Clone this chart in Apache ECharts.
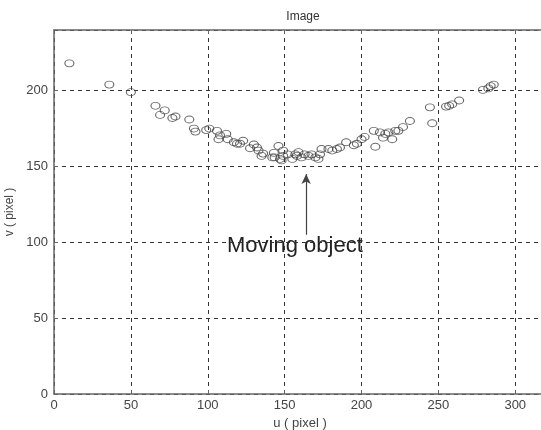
<!DOCTYPE html>
<html>
<head>
<meta charset="utf-8">
<script src="https://cdn.jsdelivr.net/npm/echarts@6/dist/echarts.min.js"></script>
<style>
  html, body { margin: 0; padding: 0; background: #fff; }
  #chart { width: 541px; height: 430px; }
</style>
</head>
<body>
<div id="chart"></div>
<script>
// u, v image coordinates of the tracked object
const uVals = [10, 36, 50, 66, 69, 72, 77, 79, 88, 91, 92, 99, 101, 106, 107, 108, 112, 113, 117, 119,
  121, 123, 127.5, 130, 132, 133, 136, 135, 142, 143, 143.5, 146, 147, 148, 149, 149, 152, 155, 157, 158,
  159, 161, 163, 165.5, 167.5, 170, 172, 173, 174, 178.5, 181, 184, 186, 190, 195, 197, 200, 202, 208, 209,
  212, 214, 215.5, 217.5, 220, 222, 224, 227, 231.5, 244.5, 246, 255, 257, 259, 263.5, 279, 282.5, 284, 286];
const vVals = [218, 204, 199, 190, 184, 187, 182, 183, 181, 175, 173, 174, 175, 173.5, 168, 170.5, 171.5, 168, 166, 165,
  165, 167, 162, 164.5, 162.5, 160.5, 158.5, 157, 156, 159, 156, 163.5, 155, 154, 157, 160.5, 158, 155, 158, 157,
  159.5, 156, 158, 157, 158, 156, 155, 158, 161.5, 161.5, 160.5, 161.5, 162.5, 166, 164, 165, 168, 169.5, 173.5, 163,
  172.5, 169, 171.5, 172.5, 168, 173.5, 173.5, 176, 180, 189, 178.5, 189.5, 190, 191, 193.5, 200.5, 201.5, 203, 204];

// annotation arrow, start and tip in data units
const arrowFrom = [164, 105];
const arrowTo = [164, 145];

const points = uVals.map((u, i) => [u, vVals[i]]);

const chart = echarts.init(document.getElementById('chart'));

const labelFont = {
  color: '#444',
  fontFamily: 'Liberation Sans, Arial, sans-serif',
  fontSize: 13
};

const option = {
  backgroundColor: '#fff',
  animation: false,
  title: {
    text: 'Image',
    left: 298,
    top: 6,
    textAlign: 'center',
    textStyle: { color: '#333', fontWeight: 'normal', fontSize: 12, fontFamily: 'Liberation Sans, Arial, sans-serif' }
  },
  grid: { left: 54, top: 30, bottom: 36, width: 492, outerBoundsMode: 'none', containLabel: false },
  xAxis: [{
    type: 'value',
    min: 0,
    max: 320,
    interval: 50,
    name: 'u ( pixel )',
    nameLocation: 'middle',
    nameGap: 22,
    nameTextStyle: labelFont,
    axisLine: { lineStyle: { color: '#666', width: 1.5 } },
    axisTick: { inside: true, length: 4, lineStyle: { color: '#666' } },
    axisLabel: Object.assign({ margin: 5, showMaxLabel: false }, labelFont),
    splitLine: { show: true, lineStyle: { color: '#333', type: [4, 4], width: 1 } }
  }, {
    type: 'value',
    position: 'top',
    min: 0,
    max: 320,
    interval: 50,
    axisLine: { show: true, lineStyle: { color: '#666', width: 1.5 } },
    axisTick: { show: true, inside: true, length: 4, lineStyle: { color: '#666' } },
    axisLabel: { show: false },
    splitLine: { show: false }
  }],
  yAxis: {
    type: 'value',
    min: 0,
    max: 240,
    interval: 50,
    name: 'v ( pixel )',
    nameLocation: 'middle',
    nameGap: 36,
    nameTextStyle: Object.assign({}, labelFont, { fontSize: 12 }),
    axisLine: { show: true, lineStyle: { color: '#666', width: 1.5 } },
    axisTick: { show: true, inside: true, length: 4, lineStyle: { color: '#666' } },
    axisLabel: Object.assign({ margin: 6, showMaxLabel: false }, labelFont),
    splitLine: { show: true, lineStyle: { color: '#333', type: [4, 4], width: 1 } }
  },
  series: [{
    type: 'scatter',
    data: points,
    symbol: 'circle',
    symbolSize: [9, 7],
    itemStyle: { color: 'rgba(255,255,255,0)', borderColor: '#444', borderWidth: 1 },
    markLine: {
      silent: true,
      symbol: ['none', 'arrow'],
      symbolSize: [7, 10],
      label: { show: false },
      lineStyle: { color: '#444', width: 1.2, type: 'solid' },
      data: [[{ coord: arrowFrom }, { coord: arrowTo }]]
    }
  }],
  graphic: [{
    type: 'text',
    left: 227,
    top: 235,
    style: {
      text: 'Moving object',
      fill: '#222',
      font: '22px Liberation Sans, Arial, sans-serif'
    }
  }]
};

chart.setOption(option);
</script>
</body>
</html>
